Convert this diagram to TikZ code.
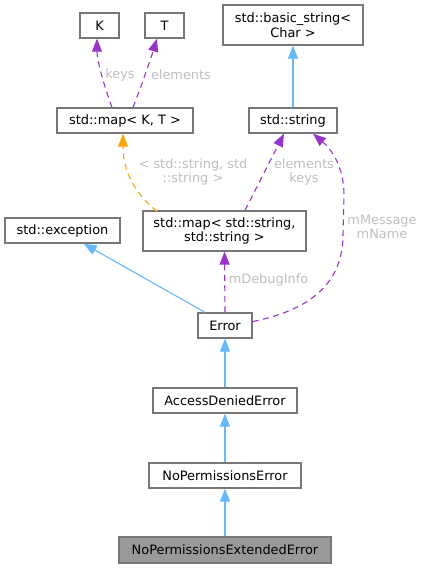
\documentclass[tikz,border=0pt]{standalone}
\usepackage{fontspec}
\setmainfont{DejaVu Sans}
\usetikzlibrary{arrows.meta}
\definecolor{boxline}{HTML}{777777}
\definecolor{focusfill}{HTML}{999999}
\definecolor{inhblue}{HTML}{63B8FF}
\definecolor{usepurple}{HTML}{9A32CD}
\definecolor{tmplorange}{HTML}{FFA500}
\definecolor{lblgray}{HTML}{BEBEBE}
\tikzset{
  cls/.style={draw=boxline, fill=white, line width=1.3pt, inner sep=0pt, align=center,
    font=\fontsize{12.9}{14.5}\selectfont},
  focus/.style={cls, fill=focusfill},
  tip/.style={-{Triangle[length=13pt,width=10pt]}},
  inh/.style={draw=inhblue, line width=1.1pt, tip, inhblue},
  usage/.style={draw=usepurple, line width=1.1pt, dash pattern=on 6pt off 4.5pt, tip, usepurple},
  tmpl/.style={draw=tmplorange, line width=1.1pt, dash pattern=on 6pt off 4.5pt, tip, tmplorange},
  lbl/.style={text=lblgray, align=center, inner sep=0pt, font=\fontsize{12.9}{14.5}\selectfont},
}
\begin{document}
\begin{tikzpicture}[x=1pt,y=-1pt]
\useasboundingbox (0,0) rectangle (424,568);
\node[cls, minimum width=39pt, minimum height=25pt] (K) at (99.5,25.5) {K};
\node[cls, minimum width=39pt, minimum height=25pt] (T) at (164.5,25.5) {T};
\node[cls, minimum width=140pt, minimum height=40pt] (basic) at (293,25) {std::basic\_string<\\Char >};
\node[cls, minimum width=136pt, minimum height=25pt] (mapKT) at (125,120.5) {std::map< K, T >};
\node[cls, minimum width=88pt, minimum height=25pt] (str) at (293,120.5) {std::string};
\node[cls, minimum width=115pt, minimum height=25pt] (exc) at (62.5,230.5) {std::exception};
\node[cls, minimum width=163pt, minimum height=40pt] (mapSS) at (224.5,231) {std::map< std::string,\\std::string >};
\node[cls, minimum width=54pt, minimum height=25pt] (err) at (225,325.5) {Error};
\node[cls, minimum width=144pt, minimum height=25pt] (acc) at (225,400.5) {AccessDeniedError};
\node[cls, minimum width=152pt, minimum height=25pt] (nop) at (225,475.5) {NoPermissionsError};
\node[focus, minimum width=212pt, minimum height=26pt] (nopx) at (225,550) {NoPermissionsExtendedError};

% inheritance
\draw[inh] (str.north) -- (basic.south);
\draw[inh] ([xshift=-20pt]err.north) -- ([xshift=-37pt]exc.south east);
\draw[inh] (acc.north) -- (err.south);
\draw[inh] (nop.north) -- (acc.south);
\draw[inh] (nopx.north) -- (nop.south);

% usage
\draw[usage] ([xshift=-13pt]mapKT.north) .. controls (105,88) and (97,62) .. ([xshift=-2.5pt]K.south);
\draw[usage] ([xshift=8pt]mapKT.north) .. controls (140,90) and (152,55) .. ([xshift=-7.5pt]T.south);
\draw[usage] ([xshift=20.5pt]mapSS.north) -- ([xshift=-9pt]str.south);
\draw[usage] (err.north) -- (mapSS.south);
\draw[usage] ([yshift=4pt]err.east) .. controls (300,312) and (343,290) .. (343,235)
  -- (344,195) .. controls (344,165) and (330,148) .. ([xshift=20pt]str.south);
\draw[tmpl] ([xshift=-67.5pt,yshift=-1pt]mapSS.north) .. controls (130,190) and (123,165) .. ([xshift=-2pt]mapKT.south);

% labels
\node[lbl] (lk) at (120,75) {keys};
\node[lbl] (le) at (181,75) {elements};
\node[lbl] (lt) at (193,172) {< std::string, std\\::string >};
\node[lbl] (lek) at (304,172) {elements\\keys};
\node[lbl] (lmm) at (382,227) {mMessage\\mName};
\node[lbl] (ldi) at (268.5,280) {mDebugInfo};
\end{tikzpicture}
\end{document}
